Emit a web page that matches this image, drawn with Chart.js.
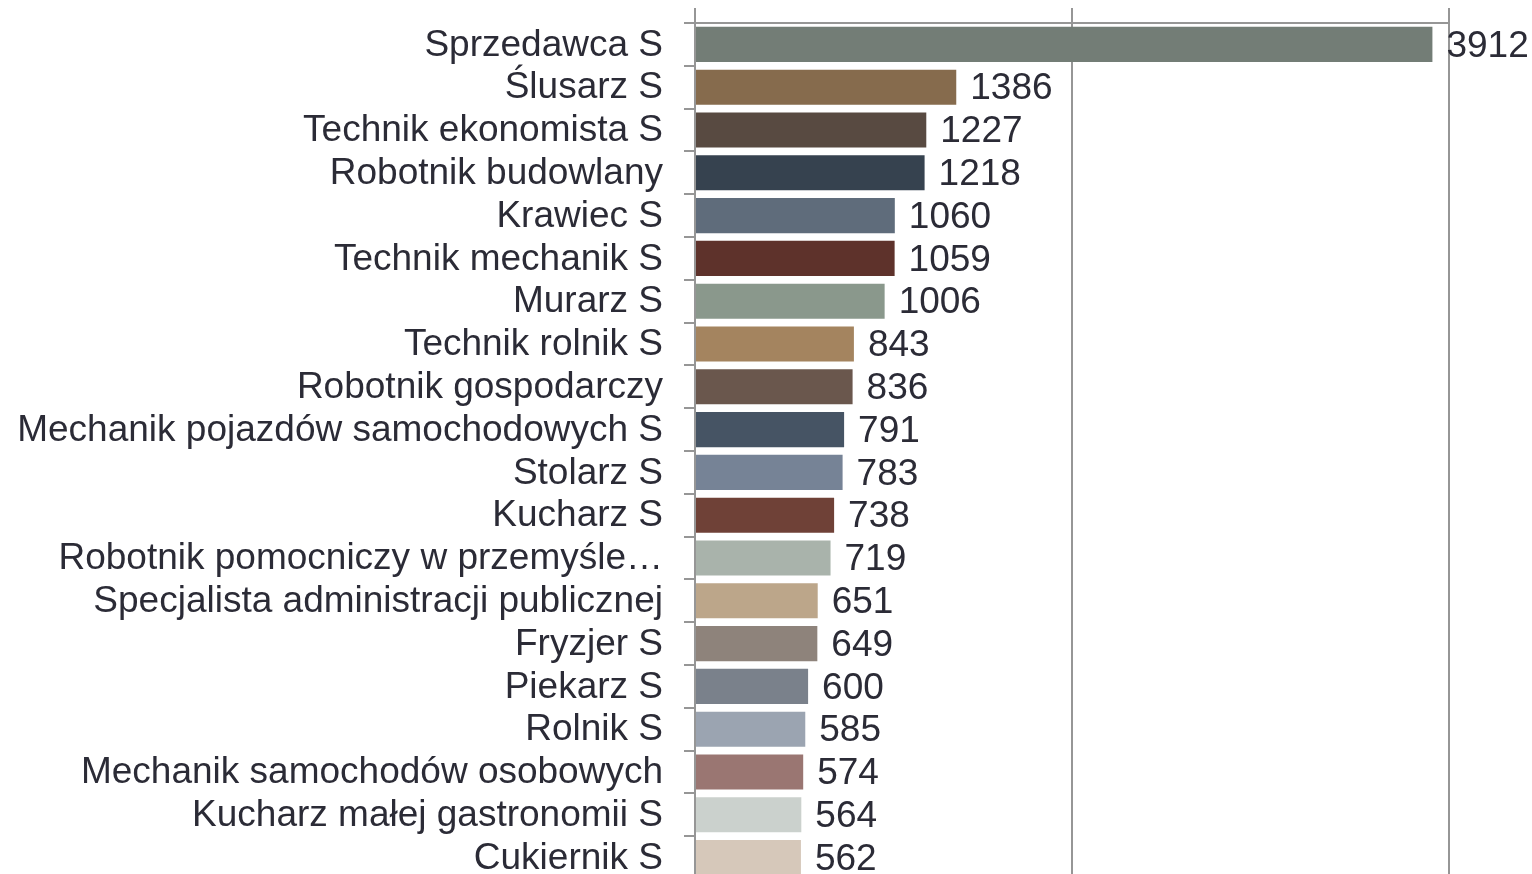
<!DOCTYPE html>
<html lang="pl">
<head>
    <meta charset="UTF-8">
    <title>Zawody</title>
    <script src="https://cdn.jsdelivr.net/npm/chart.js"></script>
    <style>
        html, body {
            margin: 0;
            padding: 0;
            background: #ffffff;
            overflow: hidden;
        }
        canvas {
            display: block;
        }
    </style>
</head>
<body>
    <canvas id="chart" width="1532" height="882"></canvas>
    <script>
        // dane
        const zawody = [
            'Sprzedawca S', 'Ślusarz S', 'Technik ekonomista S', 'Robotnik budowlany',
            'Krawiec S', 'Technik mechanik S', 'Murarz S', 'Technik rolnik S',
            'Robotnik gospodarczy', 'Mechanik pojazdów samochodowych S', 'Stolarz S',
            'Kucharz S', 'Robotnik pomocniczy w przemyśle…', 'Specjalista administracji publicznej',
            'Fryzjer S', 'Piekarz S', 'Rolnik S', 'Mechanik samochodów osobowych',
            'Kucharz małej gastronomii S', 'Cukiernik S'
        ];
        const liczby = [3912, 1386, 1227, 1218, 1060, 1059, 1006, 843, 836, 791,
                        783, 738, 719, 651, 649, 600, 585, 574, 564, 562];
        const kolory = [
            '#737d76', '#866b4d', '#584a41', '#36424f', '#5f6c7b',
            '#5e322b', '#8a988c', '#a4845f', '#6a574d', '#465464',
            '#768396', '#6f4137', '#a9b3ab', '#bca68a', '#8e837b',
            '#7a818b', '#9ba4b1', '#9a7672', '#cbd1cd', '#d6c8ba'
        ];
        const osX = [0, 2000, 4000];

        const szary = '#969696';
        const tekst = '#2b2b36';
        const czcionka = '"Liberation Sans", Arial, sans-serif';

        // etykiety wartości przy słupkach
        const etykiety = {
            id: 'etykiety',
            afterDatasetsDraw(chart) {
                const ctx = chart.ctx;
                const meta = chart.getDatasetMeta(0);
                ctx.save();
                ctx.font = '37px ' + czcionka;
                ctx.fillStyle = tekst;
                ctx.textAlign = 'left';
                ctx.textBaseline = 'middle';
                meta.data.forEach((bar, i) => {
                    ctx.fillText(String(liczby[i]), bar.x + 14, bar.y + 2);
                });
                ctx.restore();
            }
        };

        const ctx = document.getElementById('chart').getContext('2d');
        new Chart(ctx, {
            type: 'bar',
            data: {
                labels: zawody,
                datasets: [{
                    data: liczby,
                    backgroundColor: kolory,
                    borderWidth: 0,
                    barPercentage: 0.82,
                    categoryPercentage: 1.0
                }]
            },
            options: {
                indexAxis: 'y',
                responsive: false,
                animation: false,
                devicePixelRatio: 1,
                layout: {
                    padding: { top: 8, right: 83, bottom: 3, left: 0 }
                },
                plugins: {
                    legend: { display: false },
                    tooltip: { enabled: false }
                },
                scales: {
                    x: {
                        position: 'top',
                        min: osX[0],
                        max: osX[osX.length - 1],
                        afterBuildTicks(scale) {
                            scale.ticks = osX.map(v => ({ value: v }));
                        },
                        ticks: { display: false },
                        grid: {
                            color: szary,
                            lineWidth: 2,
                            drawTicks: true,
                            tickLength: 15
                        },
                        border: { display: true, color: szary, width: 2 }
                    },
                    y: {
                        afterFit(scale) {
                            scale.width = 695;
                            scale.paddingTop = 0;
                            scale.paddingBottom = 0;
                        },
                        ticks: {
                            color: tekst,
                            font: { family: czcionka, size: 37 },
                            padding: 21,
                            labelOffset: 1,
                            autoSkip: false
                        },
                        grid: {
                            offset: true,
                            drawOnChartArea: false,
                            drawTicks: true,
                            tickLength: 11,
                            color: szary,
                            lineWidth: 2
                        },
                        border: { display: true, color: szary, width: 2 }
                    }
                }
            },
            plugins: [etykiety]
        });
    </script>
</body>
</html>
